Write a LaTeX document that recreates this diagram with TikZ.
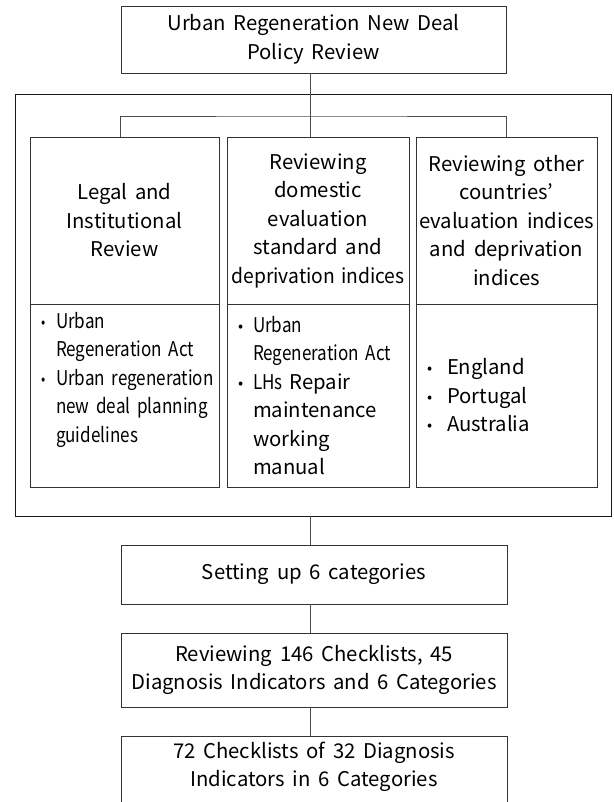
\documentclass[tikz,border=0pt]{standalone}
\usepackage{fontspec}
\setmainfont[WordSpace=1.7]{Noto Sans CJK KR}
\newfontfamily\narrowfont[FakeStretch=0.84,WordSpace=1.2]{Noto Sans CJK KR}
\newfontfamily\tightfont[FakeStretch=0.95,WordSpace=1.4]{Noto Sans CJK KR}
\newcommand{\itm}[2][15pt]{\makebox[#1][l]{\raisebox{1pt}{\fontsize{15}{15}\selectfont\textbullet}}\mbox{#2}}
\newcommand{\ind}[1]{\hspace*{15pt}\mbox{#1}}
\begin{document}
\begin{tikzpicture}[x=1pt,y=-1pt,font=\fontsize{20.3}{28.5}\selectfont,
	box/.style={draw=black!80,line width=0.8pt,inner sep=0pt,align=center},
	head/.style={box,minimum height=167pt},
	list/.style={box,minimum height=183pt,align=left,inner xsep=11pt},
	link/.style={draw=black!70,line width=0.8pt}]
	\useasboundingbox (0,0) rectangle (613,802);
	\node[box,minimum width=385pt,minimum height=67pt] (policy) at (313.5,39.5) {Urban Regeneration New Deal\\Policy Review};
	\node[draw=black!90,line width=0.8pt,minimum width=596pt,minimum height=422pt] (frame) at (313,305) {};
	\node[head,minimum width=189pt] (legal) at (124.5,220.5) {Legal and\\Institutional\\Review};
	\node[head,minimum width=182pt] (domestic) at (318,220.5) {Reviewing\\domestic\\evaluation\\standard and\\{\tightfont deprivation indices}};
	\node[head,minimum width=181pt] (abroad) at (506.5,220.5) {Reviewing other\\countries’\\evaluation indices\\and deprivation\\indices};
	\node[list,text width=167pt] (legallist) at (124.5,395.5) {\narrowfont\itm{Urban}\\\ind{Regeneration Act}\\\itm{Urban regeneration}\\\ind{new deal planning}\\\ind{guidelines}\\\strut};
	\node[list,text width=160pt] (domlist) at (318,395.5) {\itm{\narrowfont Urban}\\\ind{\narrowfont Regeneration Act}\\\itm{{\narrowfont LHs} Repair}\\\ind{maintenance}\\\ind{working}\\\ind{manual}};
	\node[list,text width=159pt] (abrlist) at (506.5,395.5) {\itm[20pt]{England}\\\itm[20pt]{Portugal}\\\itm[20pt]{Australia}};
	\node[box,minimum width=386pt,minimum height=59pt] (setup) at (314,574.5) {Setting up 6 categories};
	\node[box,minimum width=386pt,minimum height=74pt] (checks) at (314,670) {Reviewing 146 Checklists, 45\\Diagnosis Indicators and 6 Categories};
	\node[box,minimum width=386pt,minimum height=94pt] (result) at (314,783) {72 Checklists of 32 Diagnosis\\Indicators in 6 Categories\\\strut};
	\coordinate (bar) at (310,116);
	\draw[link] (policy.south -| bar) -- (bar |- domestic.north);
	\draw[link] (policy.west |- legal.north) |- (bar) -| (policy.east |- abroad.north);
	\draw[link] (frame.south -| bar) -- (setup.north -| bar);
	\draw[link] (setup.south -| bar) -- (checks.north -| bar);
	\draw[link] (checks.south -| bar) -- (result.north -| bar);
\end{tikzpicture}
\end{document}
